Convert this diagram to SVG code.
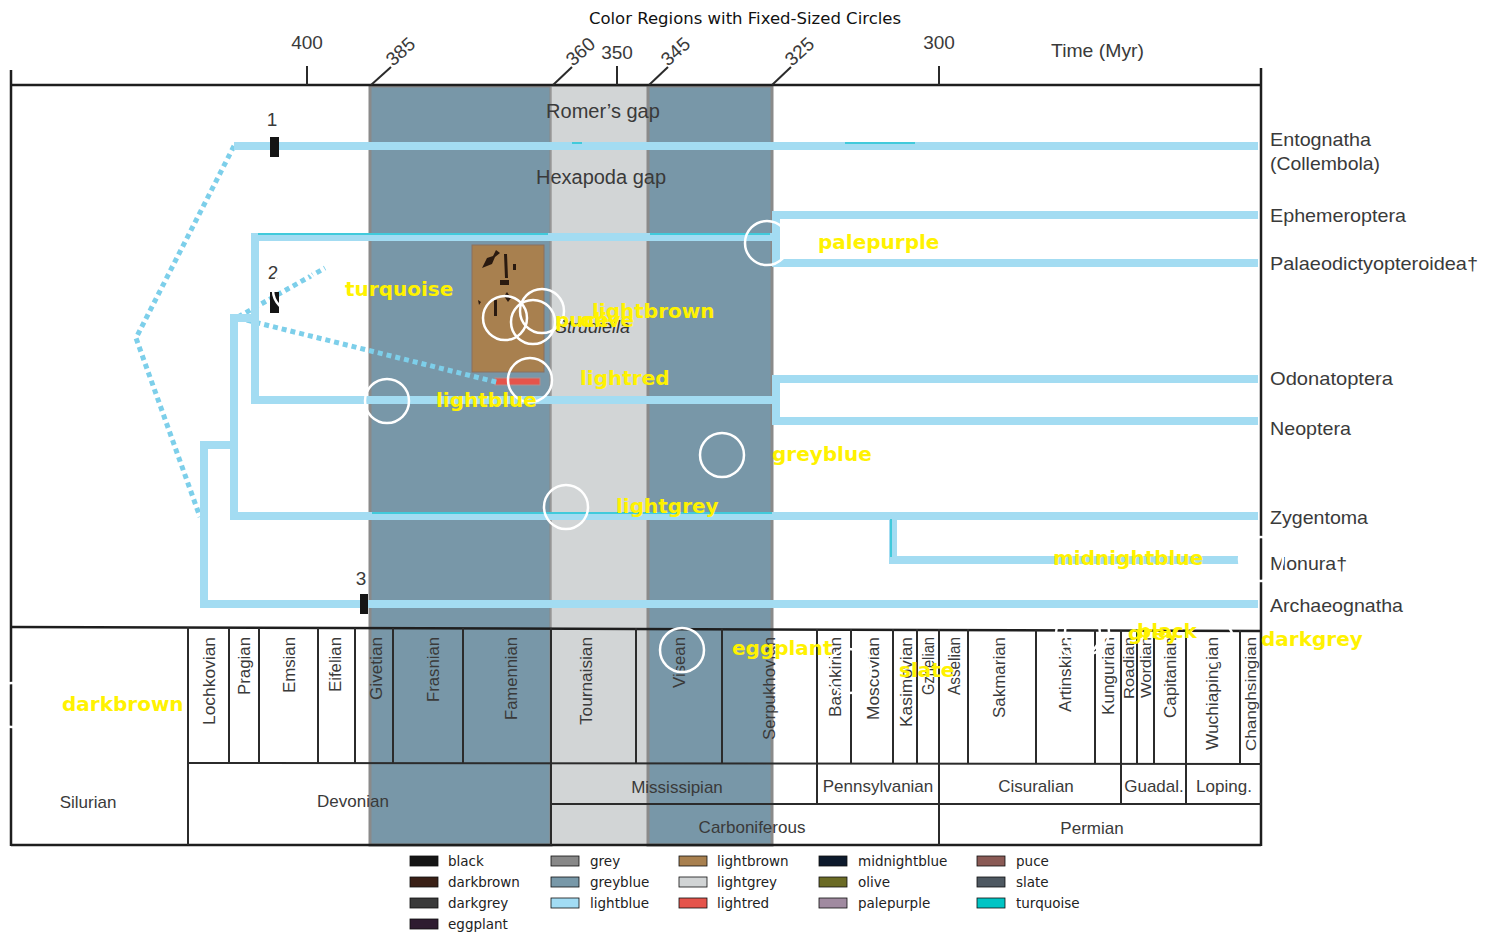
<svg xmlns="http://www.w3.org/2000/svg" width="1489" height="947" viewBox="0 0 1489 947">
<style>
.t{font-family:"Liberation Sans",Arial,sans-serif;fill:#3a3a3a}
.ax{font-size:19px}
.tx{font-size:19px}
.st{font-size:16px}
.sr{font-size:17px}
.gap{font-size:20px}
.br{fill:none;stroke:#a3dcf2;stroke-width:8}
.dot{fill:none;stroke:#7dcfea;stroke-width:5;stroke-dasharray:5 4}
.thin{fill:none;stroke:#22c3d3;stroke-width:1.5}
.ln{stroke:#2b2b2b;stroke-width:2;fill:none}
.bd{stroke:#1e1e1e;stroke-width:2.5;fill:none}
.c{fill:none;stroke:#ffffff;stroke-width:2.5}
.lab{font-family:"DejaVu Sans",sans-serif;font-weight:bold;font-size:20px;fill:#fff200}
.lg{font-family:"DejaVu Sans",sans-serif;font-size:13.5px;fill:#222}
.sw{stroke:#111;stroke-width:0.8}
.mk{fill:#151515}
</style>
<rect width="1489" height="947" fill="#ffffff"/>
<g id="title"><text x="745" y="24" text-anchor="middle" style="font-family:'DejaVu Sans',sans-serif;font-size:16.5px;fill:#111">Color Regions with Fixed-Sized Circles</text></g>
<g id="bands">
<rect x="370" y="86" width="181" height="759" fill="#7897a8" stroke="#8a8a8a" stroke-width="3"/>
<rect x="551" y="86" width="97" height="759" fill="#d2d5d6" stroke="#9a9a9a" stroke-width="1.5"/>
<rect x="648" y="86" width="124" height="759" fill="#7897a8" stroke="#8a8a8a" stroke-width="3"/>
</g>
<g id="axis">
<line class="bd" x1="11" y1="85" x2="1261" y2="85"/>
<line class="bd" x1="11" y1="70" x2="11" y2="846"/>
<line class="bd" x1="1261" y1="68" x2="1261" y2="846"/>
<line class="ln" x1="307" y1="66" x2="307" y2="85"/>
<line class="ln" x1="617" y1="66" x2="617" y2="85"/>
<line class="ln" x1="939" y1="66" x2="939" y2="85"/>
<line class="ln" x1="371" y1="85" x2="391" y2="67" stroke-width="1.5"/>
<line class="ln" x1="553" y1="85" x2="572" y2="67" stroke-width="1.5"/>
<line class="ln" x1="649" y1="85" x2="668" y2="67" stroke-width="1.5"/>
<line class="ln" x1="772" y1="85" x2="791" y2="67" stroke-width="1.5"/>
<text class="t ax" x="307" y="49" text-anchor="middle">400</text>
<text class="t ax" x="617" y="59" text-anchor="middle">350</text>
<text class="t ax" x="939" y="49" text-anchor="middle">300</text>
<text class="t ax" transform="translate(393,67) rotate(-42)">385</text>
<text class="t ax" transform="translate(573,67) rotate(-42)">360</text>
<text class="t ax" transform="translate(668,67) rotate(-42)">345</text>
<text class="t ax" transform="translate(792,67) rotate(-42)">325</text>
<text class="t ax" x="1051" y="57" textLength="93" lengthAdjust="spacingAndGlyphs">Time (Myr)</text>
</g>
<g id="fossil">
<rect x="472" y="245" width="72" height="127" fill="#a8804f" stroke="#8a7060" stroke-width="1"/>
<path d="M482,268 l5,-10 l6,-2 l3,-6 l4,3 l-5,4 l-3,7 z" fill="#2a1a10"/>
<path d="M504,254 l3,0 l1,24 l-3,0 z M500,280 l9,0 l0,5 l-9,0 z M507,292 l4,6 l-3,4 l-4,-6 z M494,300 l3,0 l0,16 l-3,0 z M513,264 l3,0 l0,6 l-3,0 z M478,300 l3,2 l-2,3 z" fill="#2a1a10"/>
<rect x="495" y="378" width="45" height="7" fill="#e5544b" stroke="#b09090" stroke-width="1"/>
<text x="555" y="333" style="font-family:'Liberation Sans',Arial,sans-serif;font-style:italic;font-size:18px;fill:#333">Strudiella</text>
</g>
<g id="gaps">
<text class="t gap" x="603" y="118" text-anchor="middle">Romer’s gap</text>
<text class="t gap" x="601" y="184" text-anchor="middle">Hexapoda gap</text>
</g>
<g id="table">
<line class="bd" x1="11" y1="627" x2="1261" y2="631"/>
<line class="ln" x1="188" y1="763" x2="1261" y2="764"/>
<line class="ln" x1="552" y1="804" x2="1261" y2="804"/>
<line class="bd" x1="11" y1="845" x2="1261" y2="845"/>
<path class="ln" d="M188,627V845 M229,628V763 M259,628V763 M318,628V763 M355,628V763 M393,628V763 M463,628V763 M551,628V845 M636,628V763 M722,628V763 M817,629V804 M851,629V763 M893,629V763 M917,629V763 M939,629V845 M968,629V763 M1036,629V763 M1095,630V763 M1121,630V804 M1137,630V763 M1154,630V763 M1186,630V804 M1240,630V763"/>
<g class="t st">
<text transform="translate(209,637) rotate(-90)" text-anchor="end" dy="0.36em" textLength="88" lengthAdjust="spacingAndGlyphs">Lochkovian</text>
<text transform="translate(244,637) rotate(-90)" text-anchor="end" dy="0.36em" textLength="58" lengthAdjust="spacingAndGlyphs">Pragian</text>
<text transform="translate(289,637) rotate(-90)" text-anchor="end" dy="0.36em" textLength="56" lengthAdjust="spacingAndGlyphs">Emsian</text>
<text transform="translate(335,637) rotate(-90)" text-anchor="end" dy="0.36em" textLength="55" lengthAdjust="spacingAndGlyphs">Eifelian</text>
<text transform="translate(376,637) rotate(-90)" text-anchor="end" dy="0.36em" textLength="63" lengthAdjust="spacingAndGlyphs">Givetian</text>
<text transform="translate(433,637) rotate(-90)" text-anchor="end" dy="0.36em" textLength="65" lengthAdjust="spacingAndGlyphs">Frasnian</text>
<text transform="translate(511,637) rotate(-90)" text-anchor="end" dy="0.36em" textLength="83" lengthAdjust="spacingAndGlyphs">Famennian</text>
<text transform="translate(586,637) rotate(-90)" text-anchor="end" dy="0.36em" textLength="88" lengthAdjust="spacingAndGlyphs">Tournaisian</text>
<text transform="translate(679,637) rotate(-90)" text-anchor="end" dy="0.36em" textLength="51" lengthAdjust="spacingAndGlyphs">Visean</text>
<text transform="translate(769,637) rotate(-90)" text-anchor="end" dy="0.36em" textLength="103" lengthAdjust="spacingAndGlyphs">Serpukhovian</text>
<text transform="translate(835,637) rotate(-90)" text-anchor="end" dy="0.36em" textLength="80" lengthAdjust="spacingAndGlyphs">Bashkirian</text>
<text transform="translate(873,637) rotate(-90)" text-anchor="end" dy="0.36em" textLength="83" lengthAdjust="spacingAndGlyphs">Moscovian</text>
<text transform="translate(906,637) rotate(-90)" text-anchor="end" dy="0.36em" textLength="90" lengthAdjust="spacingAndGlyphs">Kasimovian</text>
<text transform="translate(928,637) rotate(-90)" text-anchor="end" dy="0.36em" textLength="58" lengthAdjust="spacingAndGlyphs">Gzhelian</text>
<text transform="translate(954,637) rotate(-90)" text-anchor="end" dy="0.36em" textLength="58" lengthAdjust="spacingAndGlyphs">Asselian</text>
<text transform="translate(999,637) rotate(-90)" text-anchor="end" dy="0.36em" textLength="81" lengthAdjust="spacingAndGlyphs">Sakmarian</text>
<text transform="translate(1065,637) rotate(-90)" text-anchor="end" dy="0.36em" textLength="75" lengthAdjust="spacingAndGlyphs">Artinskian</text>
<text transform="translate(1108,637) rotate(-90)" text-anchor="end" dy="0.36em" textLength="78" lengthAdjust="spacingAndGlyphs">Kungurian</text>
<text transform="translate(1129,637) rotate(-90)" text-anchor="end" dy="0.36em" textLength="62" lengthAdjust="spacingAndGlyphs" style="font-size:15px">Roadian</text>
<text transform="translate(1146,637) rotate(-90)" text-anchor="end" dy="0.36em" textLength="61" lengthAdjust="spacingAndGlyphs" style="font-size:15px">Wordian</text>
<text transform="translate(1170,637) rotate(-90)" text-anchor="end" dy="0.36em" textLength="81" lengthAdjust="spacingAndGlyphs">Capitanian</text>
<text transform="translate(1212,637) rotate(-90)" text-anchor="end" dy="0.36em" textLength="113" lengthAdjust="spacingAndGlyphs">Wuchiapingian</text>
<text transform="translate(1251,637) rotate(-90)" text-anchor="end" dy="0.36em" textLength="114" lengthAdjust="spacingAndGlyphs" style="font-size:15px">Changhsingian</text>
</g>
<g class="t sr" text-anchor="middle">
<text x="88" y="808">Silurian</text>
<text x="353" y="807">Devonian</text>
<text x="677" y="793">Mississipian</text>
<text x="878" y="792">Pennsylvanian</text>
<text x="1036" y="792">Cisuralian</text>
<text x="1154" y="792">Guadal.</text>
<text x="1224" y="792">Loping.</text>
<text x="752" y="833">Carboniferous</text>
<text x="1092" y="834">Permian</text>
</g>
</g>
<g id="connectors">
<path class="dot" d="M234,146 L136,338 L200,517"/>
<path class="dot" d="M238,317 L325,268"/>
<path class="dot" d="M238,318 L500,383"/>
<path class="br" d="M234,146 H1258"/>
<path class="br" d="M1258,215 H776 V263 H1258"/>
<path class="br" d="M772,237 H255 V400 H772"/>
<path class="br" d="M1258,379 H776 V421 H1258"/>
<path class="br" d="M255,318 H234 V516 H1258"/>
<path class="br" d="M234,445 H204 V604 H1258"/>
<path class="br" d="M893,516 V560 H1239"/>
<path class="thin" d="M258,234 H548 M650,234 H770 M372,513 H772 M845,143 H915 M891,519 V557 M572,143 H582"/>
</g>
<g id="node-1"><rect class="mk" x="270" y="137" width="9" height="20"/><text class="t tx" x="272" y="126" text-anchor="middle">1</text></g>
<g id="node-2"><rect class="mk" x="270" y="292" width="9" height="21"/><text class="t tx" x="273" y="279" text-anchor="middle">2</text></g>
<g id="node-3"><rect class="mk" x="360" y="594" width="8" height="20"/><text class="t tx" x="361" y="585" text-anchor="middle">3</text></g>
<g id="taxa" class="t tx">
<g id="entognatha"><text x="1270" y="146" textLength="101" lengthAdjust="spacingAndGlyphs">Entognatha</text><text x="1270" y="170" textLength="110" lengthAdjust="spacingAndGlyphs">(Collembola)</text></g>
<g id="ephemeroptera"><text x="1270" y="222" textLength="136" lengthAdjust="spacingAndGlyphs">Ephemeroptera</text></g>
<g id="palaeodictyopteroidea"><text x="1270" y="270" textLength="208" lengthAdjust="spacingAndGlyphs">Palaeodictyopteroidea†</text></g>
<g id="odonatoptera"><text x="1270" y="385" textLength="123" lengthAdjust="spacingAndGlyphs">Odonatoptera</text></g>
<g id="neoptera"><text x="1270" y="435" textLength="81" lengthAdjust="spacingAndGlyphs">Neoptera</text></g>
<g id="zygentoma"><text x="1270" y="524" textLength="98" lengthAdjust="spacingAndGlyphs">Zygentoma</text></g>
<g id="monura"><text x="1270" y="570" textLength="77" lengthAdjust="spacingAndGlyphs">Monura†</text></g>
<g id="archaeognatha"><text x="1270" y="612" textLength="133" lengthAdjust="spacingAndGlyphs">Archaeognatha</text></g>
</g>
<g id="circles">
<circle class="c" cx="767" cy="243" r="22"/>
<circle class="c" cx="295" cy="290" r="22"/>
<circle class="c" cx="542" cy="311" r="22"/>
<circle class="c" cx="505" cy="318" r="22"/>
<circle class="c" cx="533" cy="322" r="22"/>
<circle class="c" cx="530" cy="380" r="22"/>
<circle class="c" cx="387" cy="401" r="22"/>
<circle class="c" cx="722" cy="455" r="22"/>
<circle class="c" cx="566" cy="507" r="22"/>
<circle class="c" cx="1261" cy="559" r="22"/>
<circle class="c" cx="682" cy="650" r="22"/>
<circle class="c" cx="849" cy="671" r="22"/>
<circle class="c" cx="1087" cy="632" r="22"/>
<circle class="c" cx="1078" cy="634" r="22"/>
<circle class="c" cx="1211" cy="640" r="22"/>
<circle class="c" cx="12" cy="705" r="22"/>
</g>
<g id="circle-labels" class="lab">
<text x="818" y="249">palepurple</text>
<text x="345" y="296">turquoise</text>
<text x="592" y="318">lightbrown</text>
<text x="555" y="327">puce</text>
<text x="580" y="327">olive</text>
<text x="580" y="385">lightred</text>
<text x="436" y="407">lightblue</text>
<text x="772" y="461">greyblue</text>
<text x="616" y="513">lightgrey</text>
<text x="1053" y="565">midnightblue</text>
<text x="732" y="655">eggplant</text>
<text x="899" y="677">slate</text>
<text x="1128" y="640">grey</text>
<text x="1137" y="638">black</text>
<text x="1261" y="646">darkgrey</text>
<text x="62" y="711">darkbrown</text>
</g>
<g id="legend">
<rect class="sw" x="410" y="856" width="28" height="10" fill="#151515"/><text class="lg" x="448" y="866">black</text>
<rect class="sw" x="410" y="877" width="28" height="10" fill="#3a2016"/><text class="lg" x="448" y="887">darkbrown</text>
<rect class="sw" x="410" y="898" width="28" height="10" fill="#3a3a3a"/><text class="lg" x="448" y="908">darkgrey</text>
<rect class="sw" x="410" y="919" width="28" height="10" fill="#2e1c30"/><text class="lg" x="448" y="929">eggplant</text>
<rect class="sw" x="551" y="856" width="28" height="10" fill="#888888"/><text class="lg" x="590" y="866">grey</text>
<rect class="sw" x="551" y="877" width="28" height="10" fill="#7898a8"/><text class="lg" x="590" y="887">greyblue</text>
<rect class="sw" x="551" y="898" width="28" height="10" fill="#a2dcf4"/><text class="lg" x="590" y="908">lightblue</text>
<rect class="sw" x="679" y="856" width="28" height="10" fill="#a8804f"/><text class="lg" x="717" y="866">lightbrown</text>
<rect class="sw" x="679" y="877" width="28" height="10" fill="#d1d4d5"/><text class="lg" x="717" y="887">lightgrey</text>
<rect class="sw" x="679" y="898" width="28" height="10" fill="#e5544b"/><text class="lg" x="717" y="908">lightred</text>
<rect class="sw" x="819" y="856" width="28" height="10" fill="#0d1a2c"/><text class="lg" x="858" y="866">midnightblue</text>
<rect class="sw" x="819" y="877" width="28" height="10" fill="#6b6b25"/><text class="lg" x="858" y="887">olive</text>
<rect class="sw" x="819" y="898" width="28" height="10" fill="#a08aa0"/><text class="lg" x="858" y="908">palepurple</text>
<rect class="sw" x="977" y="856" width="28" height="10" fill="#8a5a55"/><text class="lg" x="1016" y="866">puce</text>
<rect class="sw" x="977" y="877" width="28" height="10" fill="#4e5861"/><text class="lg" x="1016" y="887">slate</text>
<rect class="sw" x="977" y="898" width="28" height="10" fill="#00c4c4"/><text class="lg" x="1016" y="908">turquoise</text>
</g>
</svg>
